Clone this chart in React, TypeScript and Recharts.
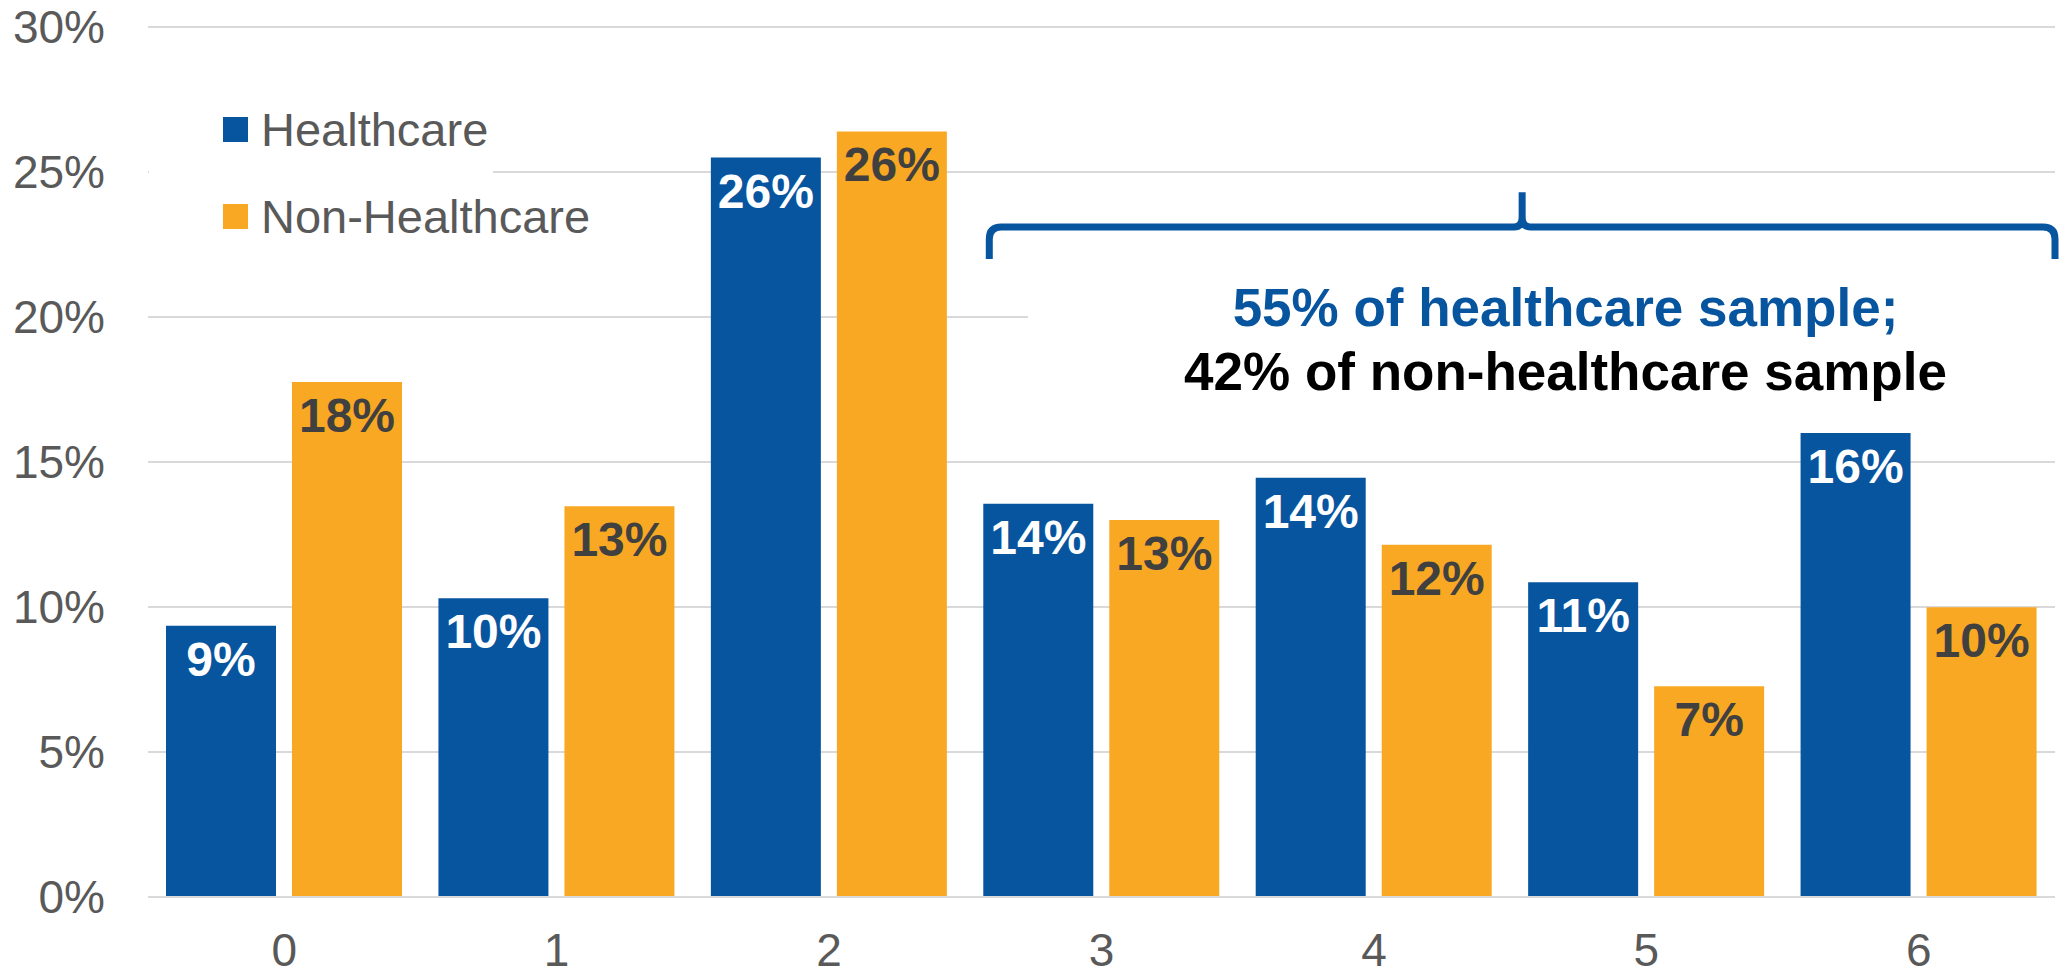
import React from 'react';
import {
  BarChart, Bar, XAxis, YAxis, CartesianGrid, LabelList, Legend, ReferenceArea,
} from 'recharts';

const categories = ['0', '1', '2', '3', '4', '5', '6'];
const healthcare = [9.35, 10.3, 25.5, 13.56, 14.46, 10.85, 16.0];
const nonHealthcare = [17.76, 13.47, 26.4, 13.0, 12.15, 7.27, 9.99];
const yTicks = [0, 5, 10, 15, 20, 25, 30];
const seriesNames = ['Healthcare', 'Non-Healthcare'];
const annotationLines = ['55% of healthcare sample;', '42% of non-healthcare sample'];
const braceRange = { from: '3', to: '6', low: 22.0, high: 24.3 };

const BLUE = '#08559F';
const ORANGE = '#F8A823';
const AXIS_TEXT = '#595959';
const GRID = '#D9D9D9';
const FONT = '"Liberation Sans", Arial, sans-serif';

const data = categories.map((c, i) => ({
  cat: c,
  healthcare: healthcare[i],
  nonHealthcare: nonHealthcare[i],
}));

const fmtLabel = (v: any) => `${Math.round(Number(v))}%`;

const Brace = (props: any) => {
  const { x, y, width, height } = props;
  const x0 = x + 24;
  const x1 = x + width;
  const yt = y;
  const yb = y + height;
  const yh = y + height * 0.52;
  const xm = (x0 + x1) / 2;
  const r = 12;
  const d = [
    `M ${x0} ${yb}`,
    `L ${x0} ${yh + r}`,
    `Q ${x0} ${yh} ${x0 + r} ${yh}`,
    `L ${xm - 8} ${yh}`,
    `Q ${xm} ${yh} ${xm} ${yh - 10}`,
    `L ${xm} ${yt}`,
    `M ${xm} ${yh - 10}`,
    `Q ${xm} ${yh} ${xm + 8} ${yh}`,
    `L ${x1 - r} ${yh}`,
    `Q ${x1} ${yh} ${x1} ${yh + r}`,
    `L ${x1} ${yb}`,
  ].join(' ');
  return <path d={d} fill="none" stroke={BLUE} strokeWidth={7} strokeLinejoin="round" />;
};

const renderLegend = (props: any) => {
  const { payload } = props;
  return (
    <div style={{ background: '#fff', paddingLeft: 74, fontFamily: FONT, whiteSpace: 'nowrap' }}>
      {(payload || []).map((entry: any) => (
        <div key={entry.value} style={{ display: 'flex', alignItems: 'center', height: 87 }}>
          <span style={{ display: 'inline-block', flex: '0 0 25px', width: 25, height: 25, background: entry.color, marginRight: 13 }} />
          <span style={{ fontSize: 47, color: AXIS_TEXT, lineHeight: 'normal', whiteSpace: 'nowrap' }}>{entry.value}</span>
        </div>
      ))}
    </div>
  );
};

export default function App() {
  return (
    <div style={{ position: 'absolute', left: 0, top: 0, width: 2061, height: 976, background: '#fff', fontFamily: FONT }}>
      <BarChart
        width={2061}
        height={976}
        data={data}
        margin={{ top: 27, right: 6, left: 0, bottom: 0 }}
        barCategoryGap={18}
        barGap={16}
      >
        <CartesianGrid vertical={false} stroke={GRID} strokeWidth={2} />
        <XAxis
          dataKey="cat"
          height={79}
          tickLine={false}
          tickSize={0}
          tickMargin={36}
          axisLine={{ stroke: GRID, strokeWidth: 2 }}
          tick={{ fill: AXIS_TEXT, fontSize: 46, fontFamily: FONT }}
        />
        <YAxis
          width={148}
          domain={[0, 30]}
          ticks={yTicks}
          axisLine={false}
          tickLine={false}
          tickSize={0}
          tickMargin={43}
          tickFormatter={(v: number) => `${v}%`}
          tick={{ fill: AXIS_TEXT, fontSize: 46, fontFamily: FONT }}
        />
        <Legend
          layout="vertical"
          align="center"
          verticalAlign="middle"
          wrapperStyle={{ left: 149, top: 86, width: 344 }}
          content={renderLegend}
        />
        <ReferenceArea
          x1={braceRange.from}
          x2={braceRange.to}
          y1={braceRange.low}
          y2={braceRange.high}
          shape={(p: any) => <Brace {...p} />}
        />
        <Bar dataKey="healthcare" name={seriesNames[0]} fill={BLUE} isAnimationActive={false}>
          <LabelList
            dataKey="healthcare"
            position="insideTop"
            offset={16}
            formatter={fmtLabel}
            fill="#FFFFFF"
            style={{ fontSize: 48, fontWeight: 700, fontFamily: FONT }}
          />
        </Bar>
        <Bar dataKey="nonHealthcare" name={seriesNames[1]} fill={ORANGE} isAnimationActive={false}>
          <LabelList
            dataKey="nonHealthcare"
            position="insideTop"
            offset={16}
            formatter={fmtLabel}
            fill="#404040"
            style={{ fontSize: 48, fontWeight: 700, fontFamily: FONT }}
          />
        </Bar>
      </BarChart>
      <div
        style={{
          position: 'absolute',
          left: 1028,
          top: 276,
          width: 1033,
          paddingLeft: 42,
          boxSizing: 'border-box',
          background: '#fff',
          textAlign: 'center',
          fontFamily: FONT,
          fontWeight: 700,
          fontSize: 53,
          lineHeight: '64px',
          whiteSpace: 'nowrap',
        }}
      >
        <div style={{ color: BLUE }}>{annotationLines[0]}</div>
        <div style={{ color: '#000' }}>{annotationLines[1]}</div>
      </div>
    </div>
  );
}
